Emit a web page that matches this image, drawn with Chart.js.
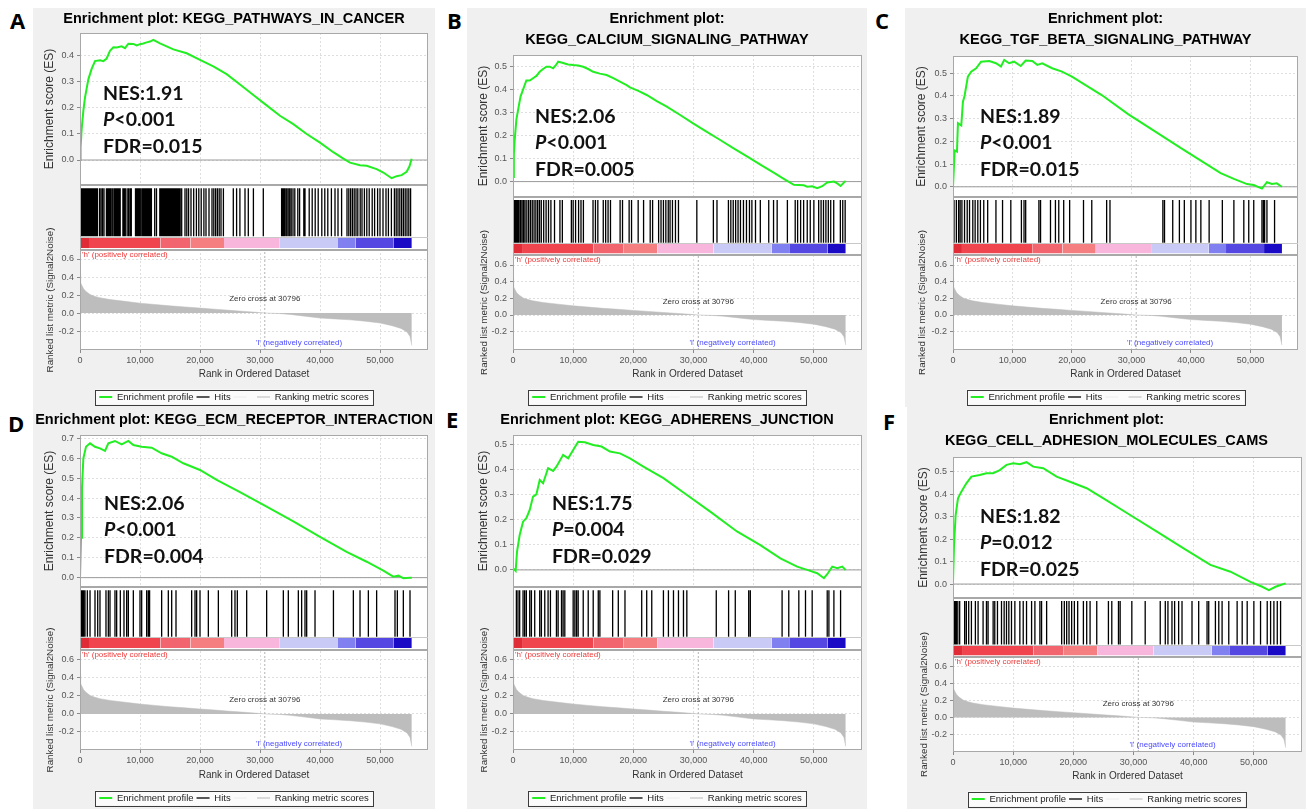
<!DOCTYPE html>
<html>
<head>
<meta charset="utf-8">
<title>GSEA enrichment plots</title>
<script src="https://cdn.jsdelivr.net/npm/chart.js@4.4.1/dist/chart.umd.min.js"></script>
<style>
  body { margin: 0; width: 1306px; height: 809px; background: #fff; position: relative; overflow: hidden; }
  .panel { position: absolute; background: #f0f0f0; }
  .panel canvas { display: block; }
  .letter { position: absolute; font: bold 22px 'Open Sans', sans-serif; line-height: 22px; color: #000; }
  .stats { position: absolute; font: bold 19.5px Lato, sans-serif; line-height: 26.5px; color: #111; white-space: nowrap; }
</style>
</head>
<body>
<script>
// shared ranked list (same expression dataset for every panel)
var xMax = 58000;
var xTicks = [0, 10000, 20000, 30000, 40000, 50000];
var rankTicks = [-0.2, 0, 0.2, 0.4, 0.6];
var zeroCross = 30796;
var rankX = [0, 50, 150, 300, 600, 1000, 1700, 2500, 3300, 5000, 7500, 10000, 12500, 15000, 17500, 20000, 22500, 25000, 27500, 29500, 30796, 31000, 33200, 35000, 37500, 40000, 42500, 45000, 47500, 50000, 52000, 53500, 54500, 55000, 55300];
var rankMetric = [0.44, 0.38, 0.34, 0.31, 0.27, 0.24, 0.205, 0.185, 0.17, 0.15, 0.13, 0.11, 0.095, 0.08, 0.068, 0.055, 0.043, 0.03, 0.018, 0.008, 0, 0, -0.005, -0.015, -0.035, -0.055, -0.065, -0.075, -0.09, -0.11, -0.14, -0.17, -0.21, -0.26, -0.36];

var colorBlockStart = [0, 1500, 13400, 18400, 24000, 33300, 43000, 45900, 52300, 55300];
var colorBlockColor = ['#e02c36', '#f0444e', '#f2646e', '#f47e80', '#f8b6dc', '#cacaf6', '#8080f0', '#5548e2', '#1a0ac6'];

// A: KEGG_PATHWAYS_IN_CANCER
var esRankA = [0, 100, 280, 560, 830, 1390, 1940, 2500, 3330, 3900, 4440, 5000, 5560, 6110, 6940, 7500, 8060, 8890, 9440, 10000, 10560, 11110, 11670, 12220, 12780, 13330, 15560, 17780, 20000, 22220, 24440, 26670, 28890, 31110, 33330, 35560, 37780, 40000, 42220, 43890, 45000, 46670, 47780, 49440, 50560, 51940, 52780, 53610, 54440, 54900, 55280];
var esScoreA = [0, 0.05, 0.12, 0.19, 0.24, 0.31, 0.35, 0.38, 0.383, 0.38, 0.39, 0.42, 0.433, 0.432, 0.437, 0.43, 0.447, 0.446, 0.44, 0.445, 0.448, 0.452, 0.455, 0.462, 0.455, 0.448, 0.425, 0.41, 0.385, 0.36, 0.33, 0.29, 0.25, 0.21, 0.17, 0.138, 0.10, 0.067, 0.03, 0.005, -0.01, -0.02, -0.022, -0.035, -0.048, -0.07, -0.062, -0.058, -0.045, -0.025, 0.005];
var hitsA = [0, 60, 150, 250, 380, 500, 650, 800, 950, 1100, 1300, 1500, 1700, 1900, 2100, 2300, 2500, 2700, 2900, 3250, 3500, 3750, 4000, 4400, 4600, 4800, 5000, 5200, 5450, 5700, 5900, 6100, 6300, 6500, 6700, 7150, 7350, 7550, 7850, 8100, 8350, 8550, 9250, 9450, 9650, 9850, 10050, 10300, 10500, 10700, 10900, 11100, 11300, 11500, 11700, 11900, 12450, 12750, 13300, 13500, 13700, 13900, 14100, 14300, 14500, 14700, 14900, 15100, 15300, 15500, 15700, 15900, 16100, 16300, 16500, 16700, 16950, 17500, 17800, 18100, 18500, 18950, 19400, 19800, 20200, 20650, 21000, 21500, 22000, 22300, 22600, 22900, 23200, 23500, 23900, 25550, 26100, 26650, 27500, 28050, 28900, 30550, 33600, 33800, 34000, 34200, 34450, 34700, 34950, 35200, 35500, 35800, 36300, 36600, 37300, 37500, 38200, 38700, 39200, 39700, 40300, 40800, 41300, 41900, 42500, 43000, 43600, 44500, 44800, 45100, 45400, 45700, 46000, 46300, 46700, 47000, 47400, 47800, 48200, 48700, 49100, 49600, 50000, 50500, 51000, 51400, 51900, 52400, 52700, 53000, 53300, 53600, 53900, 54200, 54500, 54800, 55100];

// B: KEGG_CALCIUM_SIGNALING_PATHWAY
var esRankB = [0, 140, 280, 560, 830, 1250, 1670, 2220, 2780, 3330, 3890, 4440, 5000, 5560, 6110, 6670, 7220, 7500, 8060, 8610, 9170, 10000, 10830, 11670, 12500, 13330, 14440, 15560, 16670, 17780, 18890, 19440, 20830, 22220, 23890, 25560, 27780, 30000, 32220, 34440, 36670, 38890, 41110, 43330, 45000, 46670, 48330, 48890, 49720, 50560, 51390, 52220, 53330, 53890, 54440, 55280];
var esScoreB = [0.02, 0.12, 0.18, 0.27, 0.31, 0.37, 0.40, 0.44, 0.44, 0.45, 0.46, 0.478, 0.49, 0.50, 0.50, 0.493, 0.51, 0.522, 0.518, 0.514, 0.51, 0.507, 0.505, 0.50, 0.49, 0.478, 0.47, 0.464, 0.45, 0.435, 0.42, 0.41, 0.395, 0.377, 0.35, 0.326, 0.29, 0.252, 0.216, 0.181, 0.145, 0.11, 0.074, 0.039, 0.012, -0.014, -0.016, -0.022, -0.02, -0.029, -0.02, -0.004, 0.0, -0.008, -0.019, 0.003];
var hitsB = [0, 100, 250, 400, 600, 800, 1000, 1250, 1500, 1750, 2000, 2300, 2600, 2900, 3200, 3500, 3800, 4100, 4400, 4700, 5100, 5500, 5900, 6300, 6900, 7800, 8200, 9700, 10000, 10400, 10900, 11300, 11700, 13300, 13700, 14100, 15000, 15400, 15800, 16200, 17800, 18200, 19300, 19700, 20800, 21700, 22800, 23200, 24200, 24600, 25000, 25400, 25800, 26100, 26500, 27000, 27500, 30550, 33300, 33900, 35800, 36200, 36600, 37000, 37400, 37800, 38300, 38800, 39300, 39700, 40300, 41100, 42500, 43300, 43900, 45600, 46900, 47300, 47800, 48300, 48900, 49400, 50000, 50800, 51200, 51600, 52000, 52400, 52800, 53300, 54400, 54800, 55200];

// C: KEGG_TGF_BETA_SIGNALING_PATHWAY
var esRankC = [0, 280, 670, 830, 1390, 1670, 1940, 2500, 3060, 3890, 4720, 6110, 7220, 8060, 8610, 9440, 10280, 11390, 12220, 13330, 14170, 15000, 16670, 18330, 20000, 22220, 25000, 29440, 33890, 38330, 41670, 45000, 47220, 49440, 50560, 51940, 52780, 53610, 54440, 55280];
var esScoreC = [0, 0.16, 0.155, 0.28, 0.27, 0.375, 0.40, 0.485, 0.507, 0.522, 0.551, 0.554, 0.544, 0.53, 0.559, 0.544, 0.551, 0.532, 0.556, 0.554, 0.537, 0.544, 0.522, 0.507, 0.485, 0.449, 0.404, 0.32, 0.245, 0.17, 0.115, 0.06, 0.035, 0.012, 0.008, -0.008, 0.02, 0.012, 0.015, 0.0];
var hitsC = [170, 560, 940, 1200, 1500, 1940, 2390, 2780, 3330, 3720, 4170, 4610, 5170, 5830, 7220, 8330, 9720, 11500, 11940, 12220, 14440, 14720, 16390, 17220, 17780, 18610, 19610, 21940, 23330, 25830, 26390, 35280, 35560, 36940, 38060, 38890, 40000, 40830, 41670, 43060, 45280, 47220, 48890, 49720, 50560, 51940, 52200, 52390, 52780, 54060];

// D: KEGG_ECM_RECEPTOR_INTERACTION
var esRankD = [0, 170, 330, 560, 1000, 1670, 2500, 3330, 4170, 4720, 5830, 6940, 8060, 8890, 10280, 11940, 13610, 15280, 17220, 20000, 22780, 26670, 31110, 35560, 40000, 44440, 47780, 50560, 52220, 53060, 53890, 55000, 55300];
var esScoreD = [0, 0.2, 0.45, 0.60, 0.658, 0.675, 0.658, 0.65, 0.637, 0.675, 0.687, 0.67, 0.687, 0.667, 0.658, 0.653, 0.625, 0.608, 0.575, 0.541, 0.491, 0.43, 0.357, 0.283, 0.205, 0.13, 0.08, 0.035, 0.005, 0.01, -0.003, 0.0, 0.0];
var hitsD = [0, 150, 300, 450, 600, 830, 1220, 1670, 2500, 2950, 3330, 4330, 4720, 5000, 5830, 6110, 6720, 7330, 7780, 8060, 8890, 10000, 10280, 11110, 11390, 11600, 13610, 14720, 15280, 16000, 18610, 19170, 19440, 20000, 21390, 23060, 25280, 25830, 26220, 27780, 31110, 33890, 34720, 36390, 36940, 37500, 37780, 39170, 42240, 45560, 46670, 48060, 49440, 52500, 52890, 53890, 55000];

// E: KEGG_ADHERENS_JUNCTION
var esRankE = [0, 440, 670, 1110, 1670, 2220, 2780, 3330, 3890, 4440, 5000, 5830, 6670, 7220, 8330, 9170, 10000, 10830, 11940, 13330, 14720, 16110, 17780, 19440, 21670, 25000, 28330, 32780, 37220, 41110, 44440, 47220, 48890, 50560, 51670, 52220, 53060, 53890, 54720, 55280];
var esScoreE = [0.007, -0.004, 0.073, 0.139, 0.192, 0.206, 0.239, 0.292, 0.301, 0.358, 0.345, 0.405, 0.394, 0.411, 0.458, 0.444, 0.477, 0.51, 0.508, 0.497, 0.491, 0.471, 0.464, 0.444, 0.411, 0.365, 0.308, 0.232, 0.153, 0.099, 0.046, 0.013, 0.0, -0.013, -0.033, -0.017, 0.013, 0.007, 0.013, 0.0];
var hitsE = [560, 830, 1110, 1670, 1940, 2220, 2780, 3060, 3610, 4440, 4720, 5280, 5830, 6220, 7220, 7500, 8060, 8330, 8610, 10000, 10280, 10560, 10830, 11670, 12500, 13330, 14170, 14440, 16560, 17500, 18610, 21390, 22220, 23060, 25000, 25830, 26670, 27500, 28330, 28890, 33780, 35830, 36940, 39170, 39440, 44720, 45830, 47500, 48610, 49720, 52220, 52500, 53330, 54440];

// F: KEGG_CELL_ADHESION_MOLECULES_CAMS
var esRankF = [0, 170, 440, 830, 1390, 2220, 3060, 4440, 5560, 6670, 7780, 8890, 10000, 11110, 12220, 13330, 15000, 17220, 19440, 22220, 25000, 29440, 33890, 38330, 42780, 46110, 49440, 51390, 52500, 53610, 54440, 55280];
var esScoreF = [0.01, 0.174, 0.307, 0.381, 0.411, 0.448, 0.478, 0.485, 0.493, 0.493, 0.507, 0.53, 0.537, 0.533, 0.542, 0.522, 0.515, 0.478, 0.455, 0.426, 0.381, 0.307, 0.233, 0.159, 0.085, 0.055, 0.01, -0.012, -0.027, -0.012, -0.004, 0.003];
var hitsF = [0, 200, 400, 560, 800, 1110, 1940, 2220, 2610, 3060, 3720, 4170, 5000, 5560, 5830, 6670, 6940, 7390, 8060, 8500, 8890, 9280, 9720, 10280, 11110, 11670, 12220, 13060, 13610, 14440, 14720, 15560, 18060, 18500, 18890, 19280, 19720, 20170, 20720, 21670, 22220, 22780, 23890, 25830, 26390, 27500, 27780, 29720, 31940, 34440, 35280, 35720, 36390, 36830, 37500, 38060, 39720, 40830, 42220, 42500, 43610, 44170, 44720, 45830, 47220, 48060, 48890, 50000, 51110, 52220, 52780, 53330, 53890, 54440];

var esTicks4 = [0, 0.1, 0.2, 0.3, 0.4];
var esTicks5 = [0, 0.1, 0.2, 0.3, 0.4, 0.5];
var esTicks7 = [0, 0.1, 0.2, 0.3, 0.4, 0.5, 0.6, 0.7];

var panels = [
  { letter: 'A', title: ['Enrichment plot: KEGG_PATHWAYS_IN_CANCER'], esRank: esRankA, es: esScoreA, hits: hitsA, esTicks: esTicks4,
    nes: 'NES:1.91', p: '&lt;0.001', fdr: 'FDR=0.015',
    box: { x: 33, y: 8, w: 402, h: 399 }, plotL: 80, plotR: 428, esTop: 33, esBot: 185, hitsBot: 250, rankBot: 350,
    esMin: -0.096, esMax: 0.488, rankMin: -0.41, rankMax: 0.70, titleY: 19, legendY: 397, letterPos: [10, 20.5], statsPos: [103, 93] },
  { letter: 'B', title: ['Enrichment plot:', 'KEGG_CALCIUM_SIGNALING_PATHWAY'], esRank: esRankB, es: esScoreB, hits: hitsB, esTicks: esTicks5,
    nes: 'NES:2.06', p: '&lt;0.001', fdr: 'FDR=0.005',
    box: { x: 467, y: 8, w: 400, h: 399 }, plotL: 513, plotR: 862, esTop: 55, esBot: 197, hitsBot: 255, rankBot: 350,
    esMin: -0.067, esMax: 0.551, rankMin: -0.42, rankMax: 0.72, titleY: 19, legendY: 397, letterPos: [447, 20.5], statsPos: [535, 116] },
  { letter: 'C', title: ['Enrichment plot:', 'KEGG_TGF_BETA_SIGNALING_PATHWAY'], esRank: esRankC, es: esScoreC, hits: hitsC, esTicks: esTicks5,
    nes: 'NES:1.89', p: '&lt;0.001', fdr: 'FDR=0.015',
    box: { x: 905, y: 8, w: 401, h: 399 }, plotL: 953, plotR: 1298, esTop: 56, esBot: 197, hitsBot: 255, rankBot: 350,
    esMin: -0.045, esMax: 0.576, rankMin: -0.42, rankMax: 0.72, titleY: 19, legendY: 397, letterPos: [875, 20.5], statsPos: [980, 116] },
  { letter: 'D', title: ['Enrichment plot: KEGG_ECM_RECEPTOR_INTERACTION'], esRank: esRankD, es: esScoreD, hits: hitsD, esTicks: esTicks7,
    nes: 'NES:2.06', p: '&lt;0.001', fdr: 'FDR=0.004',
    box: { x: 33, y: 407, w: 402, h: 402 }, plotL: 80, plotR: 428, esTop: 435, esBot: 587, hitsBot: 650, rankBot: 750,
    esMin: -0.047, esMax: 0.717, rankMin: -0.40, rankMax: 0.71, titleY: 420, legendY: 798, letterPos: [8, 424], statsPos: [104, 503] },
  { letter: 'E', title: ['Enrichment plot: KEGG_ADHERENS_JUNCTION'], esRank: esRankE, es: esScoreE, hits: hitsE, esTicks: esTicks5,
    nes: 'NES:1.75', p: '=0.004', fdr: 'FDR=0.029',
    box: { x: 467, y: 407, w: 400, h: 402 }, plotL: 513, plotR: 862, esTop: 435, esBot: 587, hitsBot: 650, rankBot: 750,
    esMin: -0.068, esMax: 0.537, rankMin: -0.40, rankMax: 0.71, titleY: 420, legendY: 798, letterPos: [446, 420], statsPos: [552, 503] },
  { letter: 'F', title: ['Enrichment plot:', 'KEGG_CELL_ADHESION_MOLECULES_CAMS'], esRank: esRankF, es: esScoreF, hits: hitsF, esTicks: esTicks5,
    nes: 'NES:1.82', p: '=0.012', fdr: 'FDR=0.025',
    box: { x: 907, y: 407, w: 399, h: 402 }, plotL: 953, plotR: 1302, esTop: 457, esBot: 598, hitsBot: 657, rankBot: 752,
    esMin: -0.062, esMax: 0.565, rankMin: -0.41, rankMax: 0.715, titleY: 420, legendY: 799, letterPos: [883, 422], statsPos: [980, 516] }
];

Chart.defaults.font.family = "'Liberation Sans', Arial, sans-serif";
Chart.defaults.color = '#555';

var gseaFrame = {
  id: 'gseaFrame',
  beforeDraw: function(chart) {
    var ctx = chart.ctx, ca = chart.chartArea;
    ctx.save();
    ctx.fillStyle = '#ffffff';
    ctx.fillRect(ca.left, ca.top, ca.right - ca.left, ca.bottom - ca.top);
    var boxes = chart.legend && chart.legend.legendHitBoxes;
    if (boxes && boxes.length) {
      var last = boxes[boxes.length - 1];
      var l = boxes[0].left, r = last.left + last.width;
      var cy = boxes[0].top + boxes[0].height / 2;
      ctx.fillStyle = '#fbfbfb';
      ctx.fillRect(l - 4, cy - 7.5, r - l + 8, 15);
      ctx.strokeStyle = '#3c3c3c';
      ctx.lineWidth = 1;
      ctx.strokeRect(Math.round(l - 4) + 0.5, Math.round(cy - 7.5) + 0.5, Math.round(r - l + 8), 15);
    }
    ctx.restore();
  },
  beforeDatasetsDraw: function(chart) {
    var ctx = chart.ctx, ca = chart.chartArea, h = chart.scales.yHits;
    ctx.save();
    ctx.fillStyle = '#ffffff';
    ctx.fillRect(ca.left, h.top, ca.right - ca.left, h.bottom - h.top);
    ctx.restore();
  },
  afterDatasetsDraw: function(chart) {
    var ctx = chart.ctx, ca = chart.chartArea;
    var xs = chart.scales.x, ys = chart.scales.yRank, hs = chart.scales.yHits;
    ctx.save();
    // section frames
    ctx.strokeStyle = '#a8a8a8';
    ctx.lineWidth = 1;
    ['yES', 'yHits', 'yRank'].forEach(function(id) {
      var s = chart.scales[id];
      ctx.strokeRect(Math.round(ca.left) + 0.5, Math.round(s.top) + 0.5, Math.round(ca.right - ca.left) - 1, Math.round(s.bottom - s.top) - 1);
    });
    var yb = Math.round(hs.getPixelForValue(0.2)) + 0.5;
    ctx.strokeStyle = '#c8c8c8';
    ctx.beginPath(); ctx.moveTo(ca.left, yb); ctx.lineTo(ca.right, yb); ctx.stroke();
    // ranked list annotations
    ctx.font = "8px 'Liberation Sans', Arial, sans-serif";
    ctx.textBaseline = 'middle';
    ctx.textAlign = 'left';
    ctx.fillStyle = '#f03a3a';
    ctx.fillText("'h' (positively correlated)", ca.left + 2, ys.top + 5);
    ctx.textAlign = 'center';
    ctx.fillStyle = '#333';
    ctx.fillText('Zero cross at ' + zeroCross, xs.getPixelForValue(zeroCross), ys.getPixelForValue(0.155));
    ctx.fillStyle = '#4a4aff';
    ctx.fillText("'l' (negatively correlated)", xs.getPixelForValue(36500), ys.getPixelForValue(-0.33));
    ctx.restore();
  }
};

function toPoints(xs, ys) {
  return xs.map(function(x, i) { return { x: x, y: ys[i] }; });
}

function buildPanel(p) {
  var b = p.box;
  var div = document.createElement('div');
  div.className = 'panel';
  div.style.left = b.x + 'px';
  div.style.top = b.y + 'px';
  div.style.width = b.w + 'px';
  div.style.height = b.h + 'px';
  var canvas = document.createElement('canvas');
  canvas.width = b.w;
  canvas.height = b.h;
  div.appendChild(canvas);
  document.body.appendChild(div);

  var letter = document.createElement('div');
  letter.className = 'letter';
  letter.textContent = p.letter;
  letter.style.left = p.letterPos[0] + 'px';
  letter.style.top = (p.letterPos[1] - 11.7) + 'px';
  document.body.appendChild(letter);

  var stats = document.createElement('div');
  stats.className = 'stats';
  stats.innerHTML = p.nes + '<br><i>P</i>' + p.p + '<br>' + p.fdr;
  stats.style.left = p.statsPos[0] + 'px';
  stats.style.top = (p.statsPos[1] - 13.25) + 'px';
  document.body.appendChild(stats);

  var axisW = p.plotL - b.x;
  var rightW = b.w - (p.plotR - b.x);
  var chartTop = p.esTop - b.y;
  var legendFont = 9.5, legendPad = 3;
  var legendTop = p.legendY - b.y - legendPad - legendFont / 2;
  var legendH = b.h - legendTop;
  var xAxisH = legendTop - (p.rankBot - b.y);
  var titleTopPad = p.titleY - b.y - 10.5;
  var titleBotPad = chartTop - titleTopPad - 21 * p.title.length;

  var hitData = [];
  p.hits.forEach(function(h) {
    hitData.push({ x: h, y: 0.21 }, { x: h, y: 0.95 }, { x: h, y: null });
  });
  var barData = colorBlockStart.map(function(r) { return { x: r, y: 0.2 }; });

  var gridStyle = { color: '#dedede', tickColor: '#8a8a8a', tickLength: 3 };
  var tickFont = { size: 9 };

  new Chart(canvas.getContext('2d'), {
    type: 'line',
    data: {
      datasets: [
        { label: 'Enrichment profile', data: toPoints(p.esRank, p.es), yAxisID: 'yES', borderColor: '#22ee22', borderWidth: 2,
          pointRadius: 0, pointStyle: 'line', pointBorderWidth: 2, tension: 0 },
        { label: 'Hits', data: hitData, yAxisID: 'yHits', borderColor: '#000000', borderWidth: 1.3, spanGaps: false,
          pointRadius: 0, pointStyle: 'line', pointBorderColor: '#222', pointBorderWidth: 1.5 },
        { label: ' ', data: [{ x: zeroCross, y: p.rankMin }, { x: zeroCross, y: p.rankMax }], yAxisID: 'yRank',
          borderColor: '#b4b4b4', borderWidth: 1, borderDash: [2, 2], pointRadius: 0, pointStyle: 'line', pointBorderColor: '#ececec', pointBorderWidth: 1 },
        { label: 'Ranking metric scores', data: toPoints(rankX, rankMetric), yAxisID: 'yRank', borderColor: '#bdbdbd', borderWidth: 0.5,
          backgroundColor: '#bdbdbd', fill: 'origin', pointRadius: 0, pointStyle: 'line', pointBorderColor: '#cfcfcf', pointBorderWidth: 1.5 },
        { label: 'colour bar', data: barData, yAxisID: 'yHits', borderWidth: 0, borderColor: 'rgba(0,0,0,0)', pointRadius: 0,
          fill: { value: 0.03 }, backgroundColor: colorBlockColor[0],
          segment: { backgroundColor: function(ctx) { return colorBlockColor[ctx.p0DataIndex]; } } },
        { label: 'es zero', data: [{ x: 0, y: 0 }, { x: xMax, y: 0 }], yAxisID: 'yES', borderColor: '#9a9a9a', borderWidth: 1, pointRadius: 0 }
      ]
    },
    options: {
      responsive: false,
      animation: false,
      devicePixelRatio: 1,
      layout: { padding: { left: 0, right: 0, top: 0, bottom: 0 } },
      plugins: {
        title: { display: true, text: p.title, color: '#000',
          font: { size: 14.5, weight: 'bold', lineHeight: 21 / 14.5 },
          padding: { top: titleTopPad, bottom: titleBotPad } },
        legend: { position: 'bottom', maxHeight: legendH,
          labels: { usePointStyle: true, pointStyleWidth: 13, padding: legendPad, color: '#222',
            font: { size: legendFont },
            filter: function(item) { return item.datasetIndex <= 3; } } },
        tooltip: { enabled: false }
      },
      scales: {
        x: { type: 'linear', min: 0, max: xMax,
          afterBuildTicks: function(s) { s.ticks = xTicks.map(function(v) { return { value: v }; }); },
          afterFit: function(s) { s.height = xAxisH; },
          ticks: { font: tickFont, padding: 2, maxRotation: 0, callback: function(v) { return Number(v).toLocaleString('en-US'); } },
          grid: gridStyle, border: { display: false, dash: [2, 2] },
          title: { display: true, text: 'Rank in Ordered Dataset', color: '#333', font: { size: 10 }, padding: { top: 0, bottom: 9.25 } } },
        yRank: { type: 'linear', position: 'left', stack: 'gsea', stackWeight: p.rankBot - p.hitsBot, offset: false,
          min: p.rankMin, max: p.rankMax,
          afterBuildTicks: function(s) { s.ticks = rankTicks.map(function(v) { return { value: v }; }); },
          afterFit: function(s) { s.width = axisW; },
          ticks: { font: tickFont, padding: 3, callback: function(v) { return Number(v).toFixed(1); } },
          grid: gridStyle, border: { display: false, dash: [2, 2] },
          title: { display: true, text: 'Ranked list metric (Signal2Noise)', color: '#333', font: { size: 9.8 }, padding: { top: 11.1, bottom: 0 } } },
        yHits: { type: 'linear', position: 'left', stack: 'gsea', stackWeight: p.hitsBot - p.esBot, offset: false,
          min: 0, max: 1,
          afterFit: function(s) { s.width = axisW; },
          ticks: { display: false }, grid: { display: false }, border: { display: false } },
        yES: { type: 'linear', position: 'left', stack: 'gsea', stackWeight: p.esBot - p.esTop, offset: false,
          min: p.esMin, max: p.esMax,
          afterBuildTicks: function(s) { s.ticks = p.esTicks.map(function(v) { return { value: v }; }); },
          afterFit: function(s) { s.width = axisW; },
          ticks: { font: tickFont, padding: 3, callback: function(v) { return Number(v).toFixed(1); } },
          grid: gridStyle, border: { display: false, dash: [2, 2] },
          title: { display: true, text: 'Enrichment score (ES)', color: '#333', font: { size: 12 }, padding: { top: 9.8, bottom: 0 } } },
        yPad: { type: 'linear', position: 'right', display: true,
          afterFit: function(s) { s.width = rightW; },
          ticks: { display: false }, grid: { display: false }, border: { display: false } }
      }
    },
    plugins: [gseaFrame]
  });
}

panels.forEach(buildPanel);
</script>
</body>
</html>
